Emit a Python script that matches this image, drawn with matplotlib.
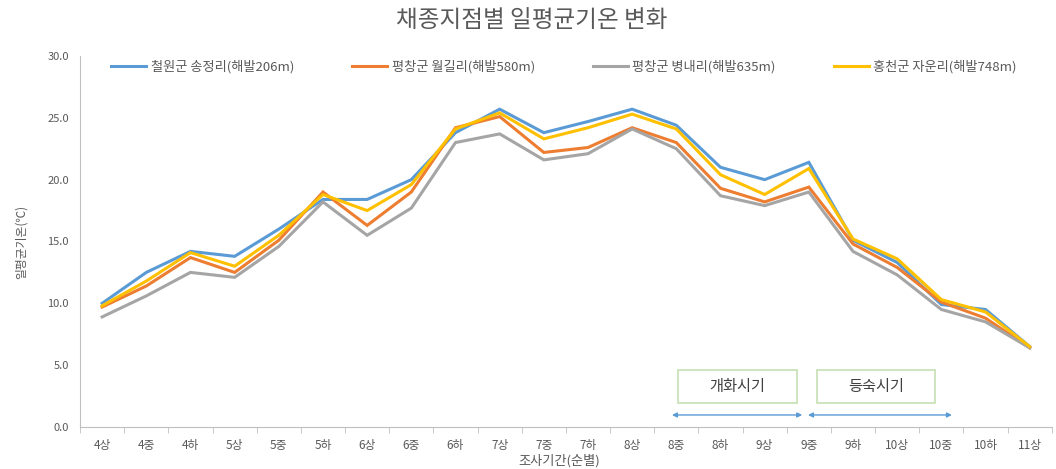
import numpy as np
import matplotlib
matplotlib.use("Agg")
import matplotlib.pyplot as plt
from matplotlib.patches import Rectangle

plt.rcParams['font.family'] = ['Noto Sans CJK KR', 'DejaVu Sans']

# 조사기간 (순별)
periods = ["4상", "4중", "4하", "5상", "5중", "5하", "6상", "6중", "6하",
           "7상", "7중", "7하", "8상", "8중", "8하", "9상", "9중", "9하",
           "10상", "10중", "10하", "11상"]

site_names = ["철원군 송정리(해발206m)", "평창군 월길리(해발580m)",
              "평창군 병내리(해발635m)", "홍천군 자운리(해발748m)"]

cheorwon = [10.0, 12.5, 14.2, 13.8, 16.0, 18.4, 18.4, 20.0, 23.8, 25.7, 23.8,
            24.7, 25.7, 24.4, 21.0, 20.0, 21.4, 15.1, 13.3, 9.9, 9.5, 6.5]
wolgil = [9.7, 11.4, 13.7, 12.5, 15.1, 19.0, 16.3, 19.0, 24.2, 25.1, 22.2,
          22.6, 24.2, 23.0, 19.3, 18.2, 19.4, 14.8, 12.9, 10.1, 8.8, 6.4]
byeongnae = [8.9, 10.6, 12.5, 12.1, 14.6, 18.2, 15.5, 17.7, 23.0, 23.7, 21.6,
             22.1, 24.1, 22.5, 18.7, 17.9, 19.0, 14.2, 12.3, 9.5, 8.5, 6.4]
jaun = [9.8, 11.8, 14.1, 13.0, 15.5, 18.8, 17.5, 19.6, 24.1, 25.4, 23.3,
        24.2, 25.3, 24.1, 20.4, 18.8, 20.9, 15.2, 13.6, 10.3, 9.3, 6.5]

colors = ["#5B9BD5", "#ED7D31", "#A5A5A5", "#FFC000"]

# 개화시기 / 등숙시기 구간 (category index)
stage_names = ["개화시기", "등숙시기"]
stage_spans = [(12.9, 15.85), (15.98, 19.24)]
stage_boxes = [(13.04, 15.73), (16.18, 18.85)]

fig = plt.figure(figsize=(10.56, 4.69), dpi=100)
ax = fig.add_axes([0.0758, 0.0896, 0.9202, 0.791])

x = np.arange(len(periods))
for vals, name, c in zip([cheorwon, wolgil, byeongnae, jaun], site_names, colors):
    ax.plot(x, vals, color=c, lw=2.2, label=name, solid_joinstyle='miter')

ax.set_xlim(-0.5, len(periods) - 0.5)
ax.set_ylim(0, 30)
ax.set_yticks(np.arange(0, 30.1, 5))
ax.set_yticklabels([f"{v:.1f}" for v in np.arange(0, 30.1, 5)])
ax.set_xticks(x)
ax.set_xticklabels(periods)
ax.set_xticks(np.arange(-0.5, len(periods), 1), minor=True)
ax.tick_params(axis='x', which='major', length=0, labelsize=8.5,
               colors="#595959", pad=9)
ax.tick_params(axis='x', which='minor', length=4, color="#BFBFBF")
ax.tick_params(axis='y', length=0, labelsize=8, colors="#595959", pad=8)

for s in ["top", "right"]:
    ax.spines[s].set_visible(False)
for s in ["left", "bottom"]:
    ax.spines[s].set_color("#BFBFBF")

fig.text(0.504, 0.957, "채종지점별 일평균기온 변화", fontsize=17,
         color="#595959", ha="center", va="center")
ax.set_ylabel("일평균기온(℃)", fontsize=8.5, color="#595959", labelpad=14)
fig.text(0.53, 0.004, "조사기간(순별)", fontsize=9.5, color="#595959",
         ha="center", va="bottom")

ax.legend(loc="center", bbox_to_anchor=(0.498, 0.970), ncol=4,
          frameon=False, fontsize=9.5, handlelength=2.65, handletextpad=0.35,
          columnspacing=4.4, labelcolor="#595959")

# 생육 단계 표시
for name, (x0, x1), (b0, b1) in zip(stage_names, stage_spans, stage_boxes):
    ax.annotate("", xy=(x0, 0.97), xytext=(x1, 0.97),
                arrowprops=dict(arrowstyle="<|-|>", color="#5B9BD5", lw=1,
                                mutation_scale=7, shrinkA=0, shrinkB=0))
    ax.add_patch(Rectangle((b0, 1.94), b1 - b0, 2.67, fc="white",
                           ec="#C5E0B4", lw=1.2))
    ax.text((b0 + b1) / 2, 3.27, name, ha="center", va="center",
            fontsize=11, color="#404040")

fig.savefig("out.png", dpi=100)
